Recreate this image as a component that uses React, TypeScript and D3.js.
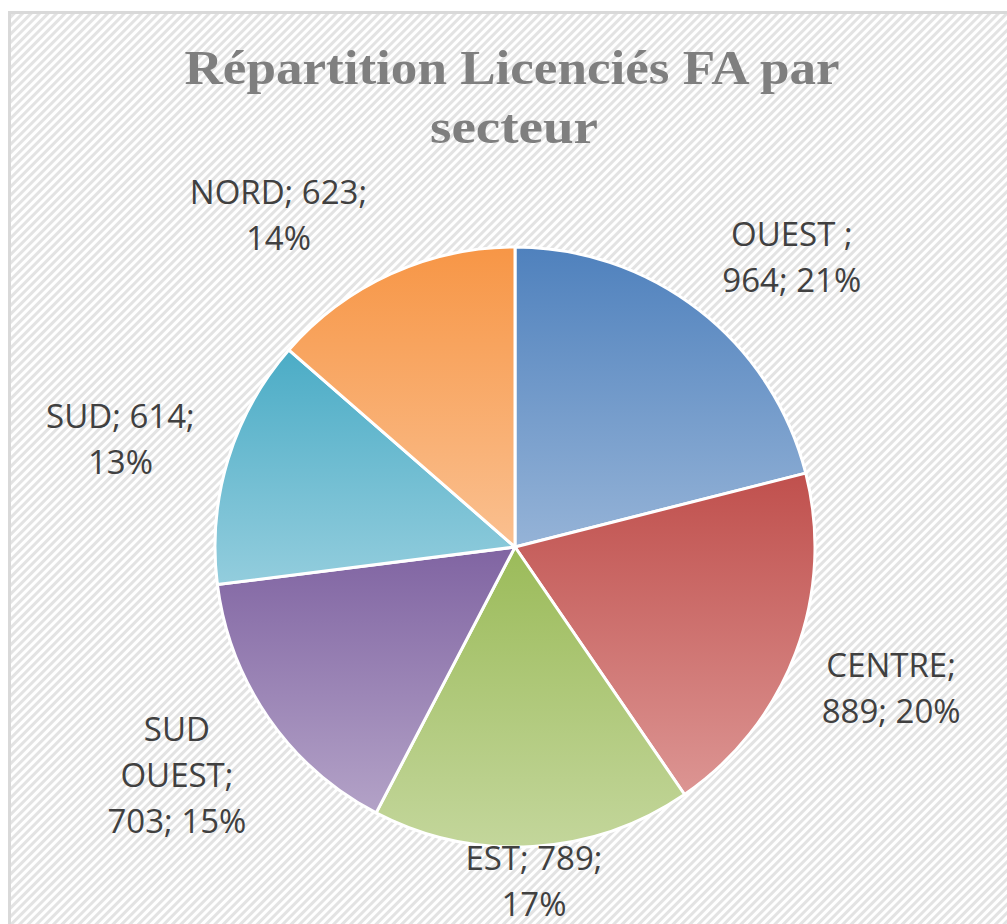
import React from "react";
import * as d3 from "d3";

const categories = ["OUEST", "CENTRE", "EST", "SUD OUEST", "SUD", "NORD"];
const values = [964, 889, 789, 703, 614, 623];
const percentLabels = ["21%", "20%", "17%", "15%", "13%", "14%"];
const labelLines = [
  ["OUEST ;", "964; 21%"],
  ["CENTRE;", "889; 20%"],
  ["EST; 789;", "17%"],
  ["SUD", "OUEST;", "703; 15%"],
  ["SUD; 614;", "13%"],
  ["NORD; 623;", "14%"],
];
const topColors = ["#4f81bd", "#c0504d", "#9bbb59", "#8064a2", "#4bacc6", "#f79646"];
const bottomColors = ["#95b3d7", "#dc9593", "#c3d69b", "#b3a2c7", "#93cddd", "#fac090"];
const titleLines = ["Répartition Licenciés FA par", "secteur"];

// layout (not data)
const W = 1007;
const H = 924;
const cx = 515;
const cy = 547;
const R = 300;
const labelRadius = 402;
const labelNudge = [
  [30, 28],
  [0, 0],
  [-5, -66],
  [-8, 0],
  [-10, 10],
  [-70, 35],
];
const lineH = 46;

export default function App() {
  const pie = d3
    .pie<number>()
    .value((d) => d)
    .sort(null);
  const arcs = pie(values);
  const arcGen = d3.arc<d3.PieArcDatum<number>>().innerRadius(0).outerRadius(R);

  return (
    <svg width={W} height={H} style={{ display: "block", position: "absolute", left: 0, top: 0 }}>
      <defs>
        <pattern id="stripes" patternUnits="userSpaceOnUse" width="6" height="6" patternTransform="rotate(45)">
          <rect width="6" height="6" fill="#ffffff" />
          <rect x="0" y="0" width="3" height="6" fill="#e3e3e3" />
        </pattern>
        {arcs.map((a, i) => (
          <linearGradient key={i} id={`g${i}`} x1="0" y1="0" x2="0" y2="1">
            <stop offset="0" stopColor={topColors[i]} />
            <stop offset="1" stopColor={bottomColors[i]} />
          </linearGradient>
        ))}
      </defs>
      <rect x={0} y={0} width={W} height={H} fill="#ffffff" />
      <rect x={9.5} y={12.5} width={W + 20} height={H + 20} fill="url(#stripes)" stroke="#d9d9d9" strokeWidth={3} />
      <g fontFamily="'Liberation Serif', serif" fontWeight="bold" fill="#7f7f7f" textAnchor="middle">
        <text x={512} y={84} fontSize={48} textLength={655} lengthAdjust="spacingAndGlyphs">
          {titleLines[0]}
        </text>
        <text x={514} y={143} fontSize={48} textLength={168} lengthAdjust="spacingAndGlyphs">
          {titleLines[1]}
        </text>
      </g>
      <g transform={`translate(${cx},${cy})`}>
        {arcs.map((a, i) => (
          <path key={categories[i]} d={arcGen(a) || ""} fill={`url(#g${i})`} stroke="#ffffff" strokeWidth={3} strokeLinejoin="round" />
        ))}
      </g>
      <g fontFamily="'Open Sans', sans-serif" fontSize={33} fill="#404040" textAnchor="middle">
        {arcs.map((a, i) => {
          const mid = (a.startAngle + a.endAngle) / 2;
          const x = cx + labelRadius * Math.sin(mid) + labelNudge[i][0];
          const y = cy - labelRadius * Math.cos(mid) + labelNudge[i][1];
          const lines = labelLines[i];
          const startY = y - ((lines.length - 1) * lineH) / 2 + 11;
          return (
            <text key={categories[i]} x={x} y={startY}>
              {lines.map((l, j) => (
                <tspan key={j} x={x} y={startY + j * lineH}>
                  {l}
                </tspan>
              ))}
            </text>
          );
        })}
      </g>
    </svg>
  );
}
